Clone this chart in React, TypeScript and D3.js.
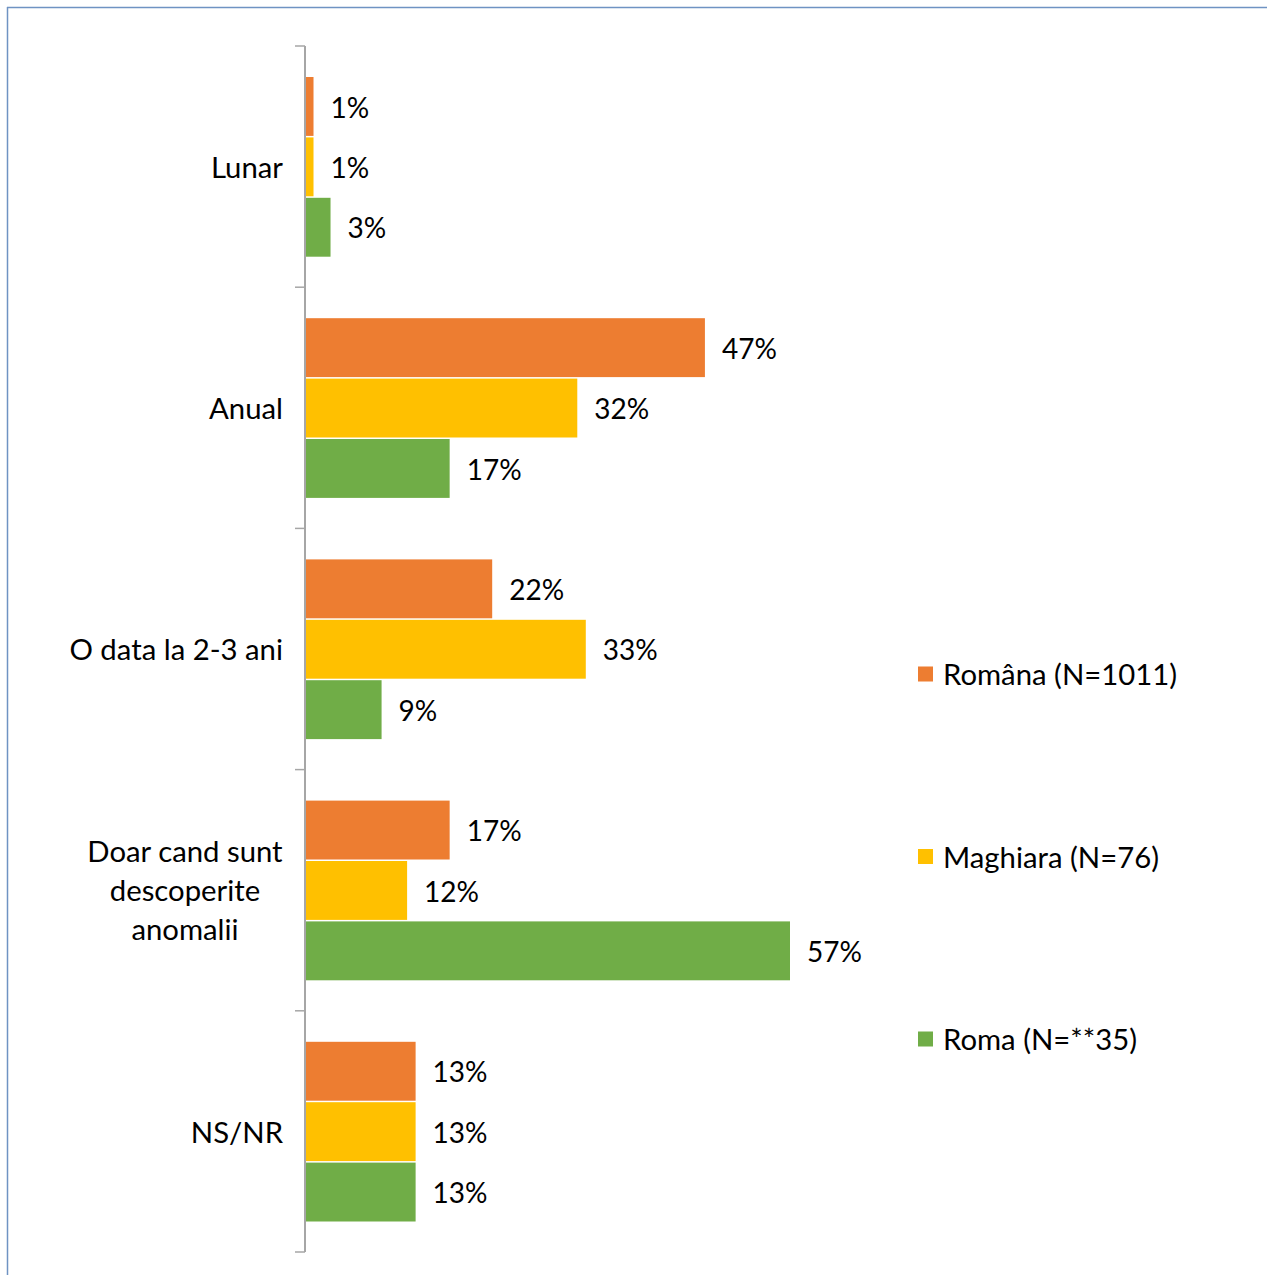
import React from "react";
import * as d3 from "d3";

const categories = ["Lunar", "Anual", "O data la 2-3 ani", "Doar cand sunt descoperite anomalii", "NS/NR"];
const categoryLines = [["Lunar"], ["Anual"], ["O data la 2-3 ani"], ["Doar cand sunt", "descoperite", "anomalii"], ["NS/NR"]];
const seriesNames = ["Româna (N=1011)", "Maghiara (N=76)", "Roma (N=**35)"];
const seriesColors = ["#ED7D31", "#FFC000", "#70AD47"];
const romana = [1, 47, 22, 17, 13];
const maghiara = [1, 32, 33, 12, 13];
const roma = [3, 17, 9, 57, 13];
const seriesValues = [romana, maghiara, roma];

const W = 1267;
const H = 1275;
const FONT = "Lato, 'Open Sans', sans-serif";

export default function App() {
  const x = d3.scaleLinear().domain([0, 57]).range([305, 790]);
  const y0 = d3.scaleBand<string>().domain(categories).range([46, 1252]).padding(0);
  const bw = y0.bandwidth();
  const pad = 30;
  const y1 = d3.scaleBand<string>().domain(seriesNames).range([pad, bw - pad]).padding(0);
  const legendY = d3.scalePoint<string>().domain(seriesNames).range([674, 1039]);
  const ticks = [...categories.map((c) => y0(c) as number), 1252];

  return (
    <svg width={W} height={H} style={{ position: "absolute", left: 0, top: 0, background: "#fff" }} fontFamily={FONT}>
      {/* chart frame */}
      <line x1={7} y1={7.5} x2={W} y2={7.5} stroke="#6F93C3" strokeWidth={1.5} />
      <line x1={7.5} y1={7} x2={7.5} y2={H} stroke="#6F93C3" strokeWidth={1.5} />

      {/* bars */}
      {categories.map((c, ci) => (
        <g key={c} transform={`translate(0,${y0(c)})`}>
          {seriesNames.map((s, si) => {
            const v = seriesValues[si][ci];
            const yy = (y1(s) as number) + 1;
            const h = y1.bandwidth() - 1.5;
            return (
              <g key={s}>
                <rect x={x(0)} y={yy} width={x(v) - x(0)} height={h} fill={seriesColors[si]} />
                <text x={x(v) + 17} y={yy + h / 2} dy="0.4em" fontSize={28} fill="#000">
                  {v}%
                </text>
              </g>
            );
          })}
        </g>
      ))}

      {/* axis */}
      <line x1={305} y1={46} x2={305} y2={1252} stroke="#A6A6A6" strokeWidth={2} />
      {ticks.map((t, i) => (
        <line key={i} x1={295} y1={t} x2={305} y2={t} stroke="#A6A6A6" strokeWidth={1.5} />
      ))}

      {/* category labels */}
      {categories.map((c, ci) => {
        const lines = categoryLines[ci];
        const cy = (y0(c) as number) + bw / 2;
        const lh = 39;
        const multi = lines.length > 1;
        return (
          <text key={c} fontSize={29.3} fill="#000" textAnchor={multi ? "middle" : "end"}>
            {lines.map((l, li) => (
              <tspan key={li} x={multi ? 185 : 283} y={cy + (li - (lines.length - 1) / 2) * lh} dy="0.38em">
                {l}
              </tspan>
            ))}
          </text>
        );
      })}

      {/* legend */}
      {seriesNames.map((s, si) => {
        const ly = legendY(s) as number;
        return (
          <g key={s}>
            <rect x={918} y={ly - 7.5} width={15} height={15} fill={seriesColors[si]} />
            <text x={943} y={ly} dy="0.38em" fontSize={29.3} fill="#000">
              {s}
            </text>
          </g>
        );
      })}
    </svg>
  );
}
